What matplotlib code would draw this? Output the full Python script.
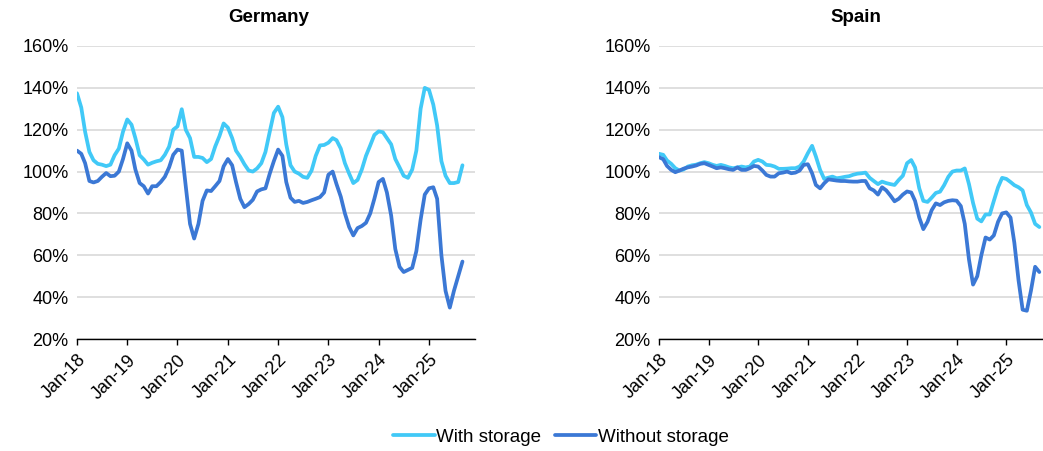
import matplotlib
matplotlib.use("Agg")
import matplotlib.pyplot as plt
import pandas as pd

plt.rcParams['font.family'] = ['Liberation Sans', 'DejaVu Sans']

months = pd.date_range('2018-01-01', periods=93, freq='MS')
tick_dates = pd.date_range('2018-01-01', periods=8, freq='12MS')
tick_labels = ['Jan-18', 'Jan-19', 'Jan-20', 'Jan-21', 'Jan-22', 'Jan-23', 'Jan-24', 'Jan-25']

germany_with = [137.4, 130.6, 119, 109.4, 105.4, 103.7, 103.3, 102.6, 103.3, 107.8,
                111, 119, 124.9, 122.4, 116, 107.8, 105.8, 103.3, 104.2, 104.9,
                105.4, 108, 111.9, 120, 121.6, 129.8, 120, 116, 107, 107,
                106.5, 104.5, 106, 112, 117, 123, 121, 116, 110, 107,
                103.5, 100.5, 100, 101.5, 104, 109.4, 119, 128, 131, 126,
                113, 103, 100, 99, 97.5, 97, 100.5, 107.5, 112.5, 112.7,
                113.8, 116, 115, 111, 104, 99, 94.5, 96, 101, 107.5,
                112.5, 117.5, 119.2, 118.8, 116, 113, 106, 102, 98, 97,
                101, 110, 130, 140, 139, 132, 122, 105, 98, 94.5,
                94.5, 95, 103]
germany_without = [110, 108.5, 104, 95.5, 94.8, 95.5, 97.5, 99.3, 97.8, 98,
                   100, 106, 113.5, 110, 101, 94.5, 93, 89.5, 93, 93,
                   95, 97.5, 102, 108, 110.5, 110, 93, 75, 68, 75,
                   86, 91, 90.7, 93, 95.5, 102.5, 106, 103, 95, 87,
                   83, 84.5, 86.5, 90.5, 91.5, 92, 99, 105, 110.5, 107.5,
                   95, 87.5, 85.5, 86, 85, 85.5, 86.3, 87, 87.8, 90,
                   98.5, 100, 94, 88, 80, 73.5, 69.5, 73, 74, 75.5,
                   80, 87, 95, 96.5, 90, 79, 63, 54.5, 52, 53,
                   54, 62, 77, 89, 92, 92.5, 87, 60, 43, 35,
                   43, 50, 57]
spain_with = [108.5, 108, 105.3, 103.7, 101.6, 100.5, 101, 102.4, 103, 103.3,
              104, 104.5, 104, 103.2, 102.7, 103.2, 102.7, 102, 101.6, 102,
              102.4, 102, 102.4, 104.8, 105.6, 104.8, 103.2, 103, 102.4, 101.3,
              101.3, 101.4, 101.6, 101.6, 102.4, 104.8, 108.8, 112.3, 107.2, 100.8,
              96.5, 97.1, 97.6, 96.8, 97.1, 97.5, 97.8, 98.5, 99, 99.2,
              99.5, 97, 95.5, 94, 95.2, 94.5, 94, 93.6, 96, 98,
              104, 105.5, 102, 92, 86, 85.5, 87.5, 89.8, 90.4, 93.5,
              97.5, 100, 100.5, 100.5, 101.5, 94, 85, 77.5, 76.2, 79.5,
              79.5, 86, 92.5, 97, 96.5, 95, 93.5, 92.5, 91, 84,
              80.5, 75, 73.5]
spain_without = [106.9, 105.9, 102.7, 100.8, 99.7, 100.5, 101.4, 102, 102.4, 102.9,
                 103.7, 104, 103.2, 102.4, 101.6, 102, 101.6, 101.1, 100.8, 102,
                 100.8, 100.8, 101.6, 102.7, 102.4, 100.5, 98.4, 97.6, 97.6, 99.2,
                 99.5, 100, 99.2, 99.5, 100.5, 103.2, 103.5, 99.2, 93.6, 92,
                 94.4, 96.3, 96, 95.7, 95.5, 95.5, 95.3, 95.2, 95.2, 95.5,
                 95.5, 92, 91, 89, 92.5, 91, 88.5, 85.8, 87, 89,
                 90.5, 90, 86, 78, 72.5, 76, 81.5, 84.8, 84, 85.3,
                 86, 86.3, 86.1, 83.5, 75, 58, 46, 50, 60, 68.5,
                 67.5, 69.5, 76, 80, 80.5, 78, 66, 48, 34, 33.5,
                 43, 54.5, 52]

c_with = '#41C9F7'
c_without = '#3B78D5'

W, H = 1043, 451
fig = plt.figure(figsize=(W / 100, H / 100), dpi=100)

def px_axes(left, right, top, bottom):
    return fig.add_axes([left / W, 1 - bottom / H, (right - left) / W, (bottom - top) / H])

axes = [px_axes(77, 475, 46, 339), px_axes(659, 1051.7, 46, 339)]
panels = [('Germany', germany_with, germany_without, 269),
          ('Spain', spain_with, spain_without, 856)]

xmin = pd.Timestamp('2018-01-01')
xmax = pd.Timestamp('2025-12-01')
fs = 13.5
tfs = 13

for ax, (name, w, wo, tx) in zip(axes, panels):
    ax.plot(months, w, color=c_with, lw=2.7, label='With storage', solid_capstyle='round', solid_joinstyle='round')
    ax.plot(months, wo, color=c_without, lw=2.7, label='Without storage', solid_capstyle='round', solid_joinstyle='round')
    ax.set_ylim(20, 160)
    ax.set_yticks(range(20, 161, 20))
    ax.set_yticklabels([f'{v}%' for v in range(20, 161, 20)], fontsize=tfs)
    ax.set_xlim(xmin, xmax)
    ax.set_xticks(tick_dates)
    ax.set_xticklabels(tick_labels, rotation=45, ha='right', rotation_mode='anchor', fontsize=tfs)
    ax.grid(axis='y', color='#D9D9D9', lw=1.2)
    ax.set_axisbelow(True)
    for s in ['left', 'right', 'top']:
        ax.spines[s].set_visible(False)
    ax.spines['bottom'].set_color('black')
    ax.spines['bottom'].set_linewidth(1)
    ax.tick_params(axis='y', length=0, pad=6)
    ax.tick_params(axis='x', direction='out', length=4, width=1, pad=5)
    fig.text(tx / W, 1 - 18 / H, name, ha='center', va='center', fontsize=fs, fontweight='bold')

handles, labels = axes[0].get_legend_handles_labels()
fig.legend(handles, labels, loc='center', bbox_to_anchor=(561 / W, 1 - 437 / H), ncol=2,
           frameon=False, fontsize=fs, handlelength=2.2, handletextpad=0.1, columnspacing=0.7)

fig.savefig('out.png', dpi=100)
